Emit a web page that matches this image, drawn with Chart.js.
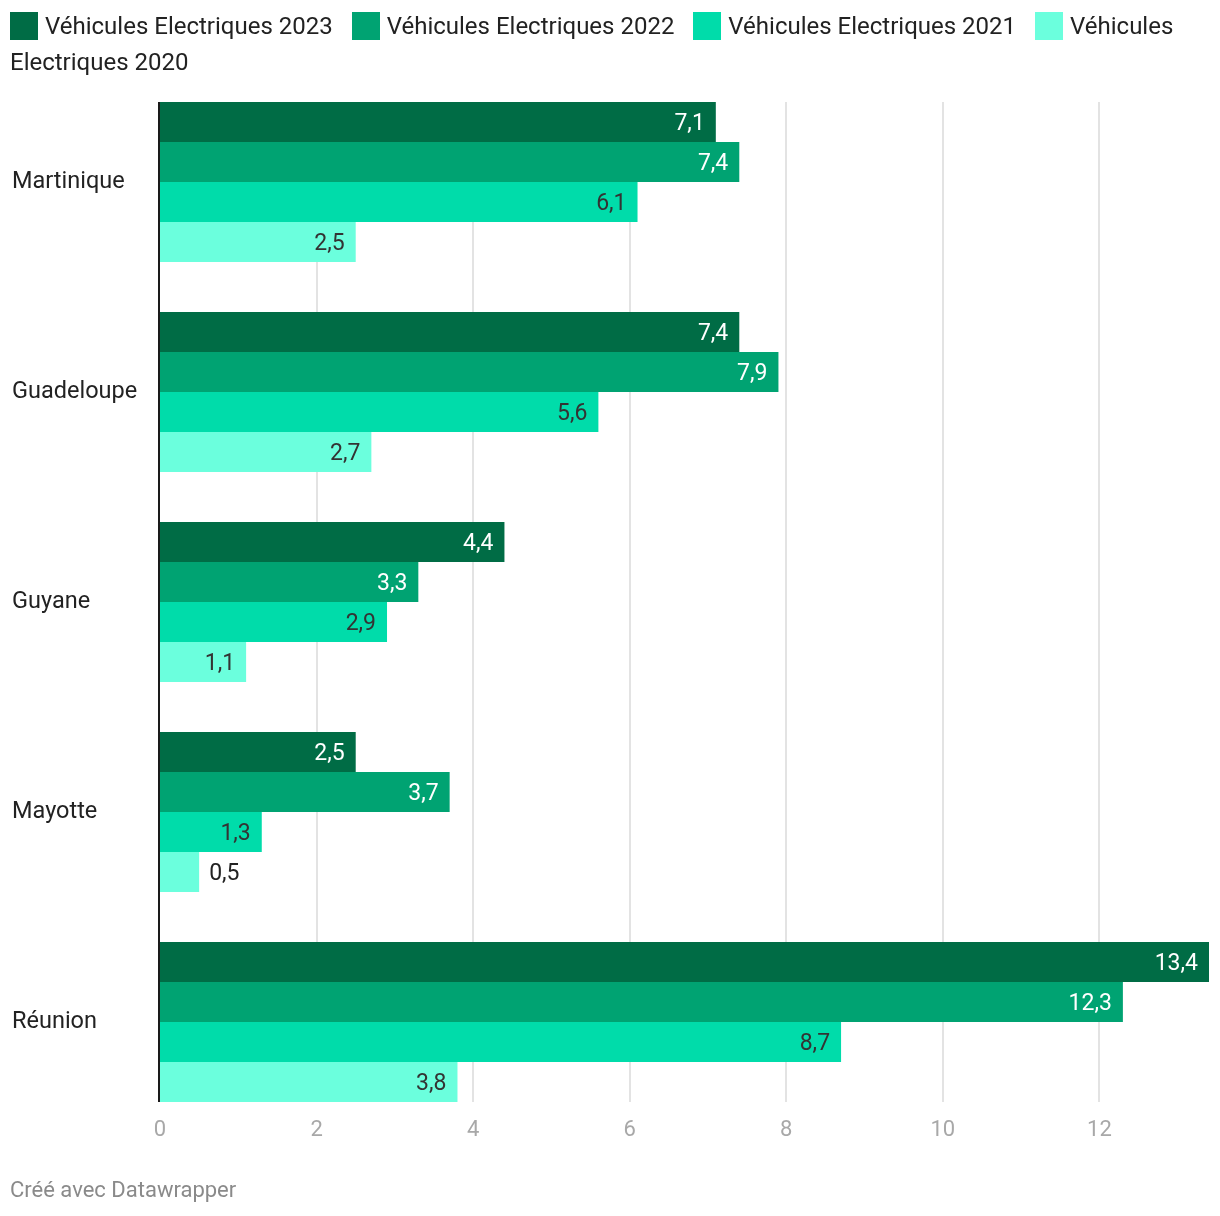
<!DOCTYPE html>
<html lang="fr">
<head>
<meta charset="utf-8">
<script src="https://cdn.jsdelivr.net/npm/chart.js@4.4.0/dist/chart.umd.min.js"></script>
<style>
    body { margin: 0; background: #fff; font-family: Roboto, sans-serif; }
    #wrap { position: relative; width: 1220px; height: 1216px; }
    #legende { position: absolute; left: 10px; top: 8px; width: 1200px; font-size: 24px; line-height: 36px; color: #222; }
    #legende .item { margin-right: 13px; }
    #legende .carre { display: inline-block; width: 28px; height: 28px; vertical-align: -6px; margin-right: 7px; }
    #pied { position: absolute; left: 10px; top: 1177px; font-size: 22px; color: #8a8a8a; }
    canvas { position: absolute; left: 0; top: 0; }
</style>
</head>
<body>
<div id="wrap">
    <canvas id="graphique" width="1220" height="1216"></canvas>
    <div id="legende"></div>
    <div id="pied">Créé avec Datawrapper</div>
</div>
<script>
const territoires = ['Martinique', 'Guadeloupe', 'Guyane', 'Mayotte', 'Réunion'];
const series = ['Véhicules Electriques 2023', 'Véhicules Electriques 2022', 'Véhicules Electriques 2021', 'Véhicules Electriques 2020'];
const ve2023 = [7.1, 7.4, 4.4, 2.5, 13.4];
const ve2022 = [7.4, 7.9, 3.3, 3.7, 12.3];
const ve2021 = [6.1, 5.6, 2.9, 1.3, 8.7];
const ve2020 = [2.5, 2.7, 1.1, 0.5, 3.8];
const couleurs = ['#006c45', '#00a372', '#00dcaa', '#6bffdd'];
const couleursTexte = ['#ffffff', '#ffffff', '#333333', '#333333'];
const graduations = [0, 2, 4, 6, 8, 10, 12];

const valeurs = [ve2023, ve2022, ve2021, ve2020];

function formaterNombre(v) {
    return v.toString().replace('.', ',');
}

// légende HTML, pour garder le retour à la ligne au milieu du dernier libellé
const legende = document.getElementById('legende');
series.forEach((nom, i) => {
    const span = document.createElement('span');
    span.className = 'item';
    span.innerHTML = `<span class="carre" style="background:${couleurs[i]}"></span>${nom}`;
    legende.appendChild(span);
    legende.appendChild(document.createTextNode(' '));
});

// grille verticale, axe noir, graduations et étiquettes de valeurs
const grilleCustom = {
    id: 'grilleCustom',
    beforeDatasetsDraw(chart) {
        const ctx = chart.ctx;
        const x = chart.scales.x;
        const premier = chart.getDatasetMeta(0).data[0];
        const dernier = chart.getDatasetMeta(3).data[territoires.length - 1];
        const haut = premier.y - premier.height / 2;
        const bas = dernier.y + dernier.height / 2;
        ctx.save();
        ctx.strokeStyle = '#e3e3e3';
        ctx.lineWidth = 2;
        graduations.slice(1).forEach(g => {
            const px = Math.round(x.getPixelForValue(g));
            ctx.beginPath();
            ctx.moveTo(px, haut);
            ctx.lineTo(px, bas);
            ctx.stroke();
        });
        ctx.restore();
    },
    afterDatasetsDraw(chart) {
        const ctx = chart.ctx;
        const x = chart.scales.x;
        const premier = chart.getDatasetMeta(0).data[0];
        const dernier = chart.getDatasetMeta(3).data[territoires.length - 1];
        const bas = dernier.y + dernier.height / 2;
        ctx.save();
        ctx.strokeStyle = '#1a1a1a';
        ctx.lineWidth = 2;
        const px = x.getPixelForValue(0) - 1;
        ctx.beginPath();
        ctx.moveTo(px, premier.y - premier.height / 2);
        ctx.lineTo(px, bas);
        ctx.stroke();

        // graduations de l'axe x
        ctx.font = '22px Roboto';
        ctx.fillStyle = '#a8a8a8';
        ctx.textAlign = 'center';
        ctx.textBaseline = 'middle';
        graduations.forEach(g => {
            ctx.fillText(String(g), x.getPixelForValue(g), bas + 28);
        });

        // étiquettes de valeurs
        ctx.font = '23px Roboto';
        chart.data.datasets.forEach((ds, i) => {
            chart.getDatasetMeta(i).data.forEach((barre, j) => {
                const texte = formaterNombre(ds.data[j]);
                const largeur = ctx.measureText(texte).width;
                const longueur = barre.x - barre.base;
                if (largeur + 20 > longueur) {
                    ctx.fillStyle = '#222';
                    ctx.textAlign = 'left';
                    ctx.fillText(texte, barre.x + 10, barre.y + 2);
                } else {
                    ctx.fillStyle = couleursTexte[i];
                    ctx.textAlign = 'right';
                    ctx.fillText(texte, barre.x - 11, barre.y + 2);
                }
            });
        });
        ctx.restore();
    }
};

const ctx = document.getElementById('graphique').getContext('2d');
new Chart(ctx, {
    type: 'bar',
    data: {
        labels: territoires,
        datasets: series.map((nom, i) => ({
            label: nom,
            data: valeurs[i],
            backgroundColor: couleurs[i],
            borderWidth: 0,
            categoryPercentage: 160 / 210,
            barPercentage: 1
        }))
    },
    options: {
        indexAxis: 'y',
        responsive: false,
        animation: false,
        layout: { padding: { top: 77, left: 12, right: 11, bottom: 0 } },
        plugins: {
            legend: { display: false },
            tooltip: { enabled: false }
        },
        scales: {
            x: {
                min: 0,
                max: 13.4,
                grid: { display: false, drawTicks: false },
                border: { display: false },
                afterFit: function (scale) { scale.height = 89; },
                ticks: { display: false }
            },
            y: {
                grid: { display: false, drawTicks: false },
                border: { display: false },
                afterFit: function (scale) { scale.width = 148; },
                ticks: {
                    crossAlign: 'far',
                    color: '#222',
                    font: { family: 'Roboto', size: 23.5 }
                }
            }
        }
    },
    plugins: [grilleCustom]
});
</script>
</body>
</html>
